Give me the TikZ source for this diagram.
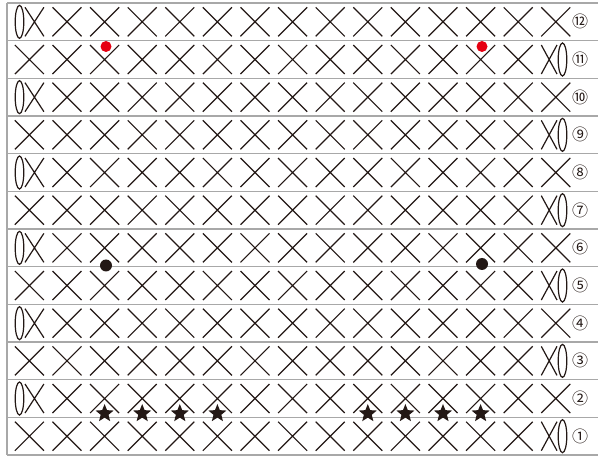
\documentclass[tikz,border=0pt]{standalone}
\usepackage{fontspec}
\newfontfamily\circfont{Noto Sans CJK JP}
\usetikzlibrary{shapes.geometric}
\definecolor{gridgray}{RGB}{168,168,168}
\definecolor{ink}{RGB}{35,24,21}
\definecolor{dotred}{RGB}{230,0,18}
\tikzset{
  gridline/.style={draw=gridgray, line width=1.3pt},
  xmark/.style={draw=ink, line width=1.2pt},
  chainmark/.style={draw=ink, line width=1.2pt},
  starmark/.style={star, star points=5, star point ratio=2.3, fill=ink, draw=none, minimum size=19pt, inner sep=0pt},
  reddot/.style={circle, fill=dotred, draw=none, minimum size=11pt, inner sep=0pt},
  blackdot/.style={circle, fill=ink, draw=none, minimum size=12pt, inner sep=0pt},
  rownum/.style={font=\circfont\fontsize{16}{16}\selectfont, inner sep=0pt, text=ink}
}
\newcommand{\sccross}[3]{\draw[xmark] (#1,#3-14.5) -- (#2,#3+14.5) (#1,#3+14.5) -- (#2,#3-14.5);}
\begin{document}
\begin{tikzpicture}[x=1pt,y=-1pt]
\useasboundingbox (0,0) rectangle (598,457);
\fill[white] (0,0) rectangle (598,457);
% grid
\foreach \i in {0,...,12}{
  \draw[gridline] (7,{3+37.67*\i}) -- (598,{3+37.67*\i});
}
\draw[gridline] (7,3) -- (7,455);
% rows
\foreach \r in {1,...,12}{
  \pgfmathsetmacro{\cy}{3+37.67*(12.5-\r)}
  \foreach \k in {1,...,13}{
    \pgfmathsetmacro{\cx}{29.4+37.6*\k}
    \sccross{\cx-14.5}{\cx+14.5}{\cy}
  }
  \ifodd\r
    \sccross{14.9}{43.9}{\cy}
    \sccross{541.3}{557}{\cy}
    \draw[chainmark] (562.5,\cy) ellipse (4.3 and 16.5);
  \else
    \sccross{25}{43.9}{\cy}
    \sccross{541.3}{570.3}{\cy}
    \draw[chainmark] (19.5,\cy) ellipse (4.3 and 16.5);
  \fi
}
% row numbers
\foreach \r/\lab in {1/①,2/②,3/③,4/④,5/⑤,6/⑥,7/⑦,8/⑧,9/⑨,10/⑩,11/⑪,12/⑫}{
  \node[rownum] (n\r) at (580,{3+37.67*(12.5-\r)}) {\lab};
}
% red dots (row 11)
\node[reddot] (r1) at (106,46.5) {};
\node[reddot] (r2) at (482,46.5) {};
% black dots (between rows 6 and 5)
\node[blackdot] (b1) at (106,265.5) {};
\node[blackdot] (b2) at (482,264) {};
% stars (row 2)
\foreach \k in {2,3,4,5,9,10,11,12}{
  \node[starmark] (s\k) at ({29.4+37.6*\k},413.5) {};
}
\end{tikzpicture}
\end{document}
